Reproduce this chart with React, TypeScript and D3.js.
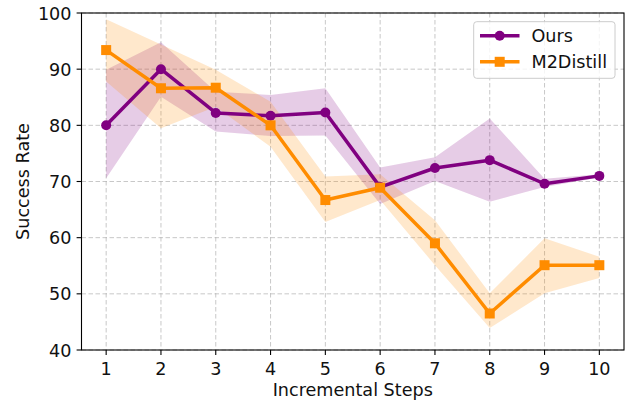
import React from 'react';
import * as d3 from 'd3';

// chart values
const steps = [1, 2, 3, 4, 5, 6, 7, 8, 9, 10];
const ours = [80.0, 90.0, 82.2, 81.7, 82.3, 69.0, 72.4, 73.8, 69.6, 71.0];
const oursLow = [70.6, 85.1, 78.9, 78.1, 78.2, 66.0, 70.1, 66.4, 69.0, 70.7];
const oursHigh = [89.9, 94.8, 86.0, 85.4, 86.6, 72.5, 74.3, 81.2, 70.5, 71.3];
const m2 = [93.4, 86.6, 86.7, 80.0, 66.7, 68.9, 59.0, 46.5, 55.1, 55.1];
const m2Low = [87.8, 79.5, 83.3, 76.2, 62.8, 66.7, 55.1, 43.9, 50.1, 52.8];
const m2High = [98.9, 94.4, 89.9, 84.2, 70.9, 71.3, 63.1, 50.1, 59.9, 56.6];
const yTicks = [40, 50, 60, 70, 80, 90, 100];

const W = 634;
const H = 405;
const margin = { top: 13, right: 10, bottom: 55, left: 81.5 };
const FONT = '"DejaVu Sans", sans-serif';
const FS = 17.6;
const PURPLE = '#800080';
const ORANGE = '#ff8c00';

const App = () => {
    const x = d3.scaleLinear().domain([0.55, 10.45]).range([margin.left, W - margin.right]);
    const y = d3.scaleLinear().domain([40, 100]).range([H - margin.bottom, margin.top]);
    const x0 = margin.left;
    const x1 = W - margin.right;
    const y0 = H - margin.bottom;
    const y1 = margin.top;

    const line = d3.line<number>().x((d, i) => x(steps[i])).y(d => y(d));
    const band = (lo: number[], hi: number[]) =>
        d3.area<number>()
            .x((d, i) => x(steps[i]))
            .y0((d, i) => y(lo[i]))
            .y1(d => y(d))(hi) as string;

    const series = [
        { name: 'Ours', vals: ours, lo: oursLow, hi: oursHigh, color: PURPLE, shape: 'circle' },
        { name: 'M2Distill', vals: m2, lo: m2Low, hi: m2High, color: ORANGE, shape: 'square' },
    ];

    const marker = (shape: string, cx: number, cy: number, color: string, key: any) =>
        shape === 'circle'
            ? <circle key={key} cx={cx} cy={cy} r={5} fill={color} />
            : <rect key={key} x={cx - 5} y={cy - 5} width={10} height={10} fill={color} />;

    return (
        <div style={{ position: 'absolute', left: 0, top: 0 }}>
            <svg width={W} height={H} style={{ display: 'block', fontFamily: FONT }}>
                <rect width={W} height={H} fill="white" />

                {/* grid */}
                <g stroke="#b0b0b0" strokeOpacity={0.7} strokeWidth={1} strokeDasharray="4.5,2.5">
                    {steps.map(s => <line key={'gx' + s} x1={x(s)} x2={x(s)} y1={y1} y2={y0} />)}
                    {yTicks.map(t => <line key={'gy' + t} x1={x0} x2={x1} y1={y(t)} y2={y(t)} />)}
                </g>

                {/* bands */}
                {series.map(s => (
                    <path key={'b' + s.name} d={band(s.lo, s.hi)} fill={s.color} fillOpacity={0.2} />
                ))}

                {/* lines + markers */}
                {series.map(s => (
                    <g key={'l' + s.name}>
                        <path d={line(s.vals) as string} fill="none" stroke={s.color} strokeWidth={3.5} strokeLinejoin="round" />
                        {s.vals.map((v, i) => marker(s.shape, x(steps[i]), y(v), s.color, i))}
                    </g>
                ))}

                {/* frame */}
                <rect x={x0} y={y1} width={x1 - x0} height={y0 - y1} fill="none" stroke="black" strokeWidth={1.1} />

                {/* x axis */}
                {steps.map(s => (
                    <g key={'xt' + s}>
                        <line x1={x(s)} x2={x(s)} y1={y0} y2={y0 + 4.9} stroke="black" strokeWidth={1.1} />
                        <text x={x(s)} y={374.5} textAnchor="middle" fontSize={FS} fill="#111">{s}</text>
                    </g>
                ))}
                <text x={(x0 + x1) / 2} y={396} textAnchor="middle" fontSize={FS} fill="#111">Incremental Steps</text>

                {/* y axis */}
                {yTicks.map(t => (
                    <g key={'yt' + t}>
                        <line x1={x0 - 4.9} x2={x0} y1={y(t)} y2={y(t)} stroke="black" strokeWidth={1.1} />
                        <text x={x0 - 10} y={y(t) + 6.6} textAnchor="end" fontSize={FS} fill="#111">{t}</text>
                    </g>
                ))}
                <text transform={`translate(28.5, ${(y0 + y1) / 2}) rotate(-90)`} textAnchor="middle" fontSize={FS} fill="#111">Success Rate</text>

                {/* legend */}
                <rect x={473.7} y={21.7} width={141.3} height={56.6} rx={3} fill="white" fillOpacity={0.8} stroke="#cccccc" strokeWidth={1} />
                {series.map((s, i) => {
                    const ly = 35.8 + i * 26;
                    return (
                        <g key={'lg' + s.name}>
                            <line x1={480} x2={519.5} y1={ly} y2={ly} stroke={s.color} strokeWidth={3.5} />
                            {marker(s.shape, 499.7, ly, s.color, 'm')}
                            <text x={531.5} y={ly + 6.4} fontSize={FS} fill="#111">{s.name}</text>
                        </g>
                    );
                })}
            </svg>
        </div>
    );
};

export default App;
